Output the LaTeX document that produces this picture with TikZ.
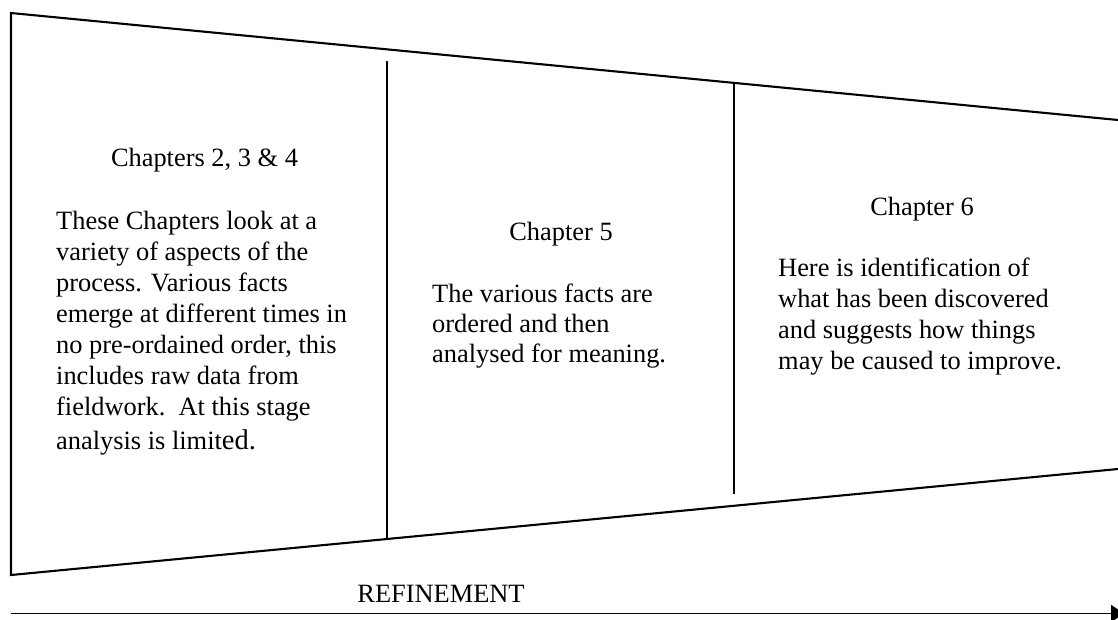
\documentclass[tikz,border=0pt]{standalone}
\usepackage{fontspec}
\setmainfont{Liberation Serif}
\usetikzlibrary{arrows.meta}
\tikzset{
  frame/.style={line width=2.1pt, line cap=round, line join=miter},
  divider/.style={line width=2.1pt},
  titletext/.style={anchor=base, inner sep=0pt, font=\fontsize{26.4}{31}\selectfont},
  bodytext/.style={anchor=base west, inner sep=0pt},
  axis/.style={line width=1.8pt, -{Triangle[length=13pt,width=17pt]}}
}
\newcommand{\bodypar}[2]{\parbox[t]{#1}{\fontsize{26.4}{31}\selectfont\raggedright #2}}
\begin{document}
\begin{tikzpicture}[x=1pt,y=-1pt]
\useasboundingbox (0,0) rectangle (1118,619);
% frame corners
\coordinate (TL) at (11,13);
\coordinate (TR) at (1118,120);
\coordinate (BL) at (11,575);
\coordinate (BR) at (1118,469);
\draw[frame] (TR) -- (TL) -- (BL) -- (BR);
% dividers
\coordinate (d1t) at (387,61);
\coordinate (d1b) at (387,539);
\coordinate (d2t) at (734,82);
\coordinate (d2b) at (734,494);
\draw[divider] (d1t) -- (d1b);
\draw[divider] (d2t) -- (d2b);
% column 1
\node[titletext] (t1) at (204.5,166) {Chapters 2, 3 \& 4};
\node[bodytext] (b1) at (56,229) {\bodypar{320pt}{These Chapters look at a\\ variety of aspects of the\\ process. Various facts\\ emerge at different times in\\ no pre-ordained order, this\\ includes raw data from\\ fieldwork.\ \ At this stage\\[3pt] analysis is limit{\fontsize{28.5}{31}\selectfont ed.}}};
% column 2
\node[titletext] (t2) at (561,240) {Chapter 5};
\node[bodytext] (b2) at (432,302) {\parbox[t]{290pt}{\fontsize{26.4}{30}\selectfont\raggedright The various facts are\\ ordered and then\\ analysed for meaning.}};
% column 3
\node[titletext] (t3) at (922,215) {Chapter 6};
\node[bodytext] (b3) at (778,276) {\bodypar{330pt}{Here is identification of\\ what has been discovered\\ and suggests how things\\ may be caused to improve.}};
% refinement arrow
\node[titletext] (ref) at (441,602) {REFINEMENT};
\coordinate (a0) at (11,613.5);
\coordinate (a1) at (1124,613.5);
\draw[axis] (a0) -- (a1);
\end{tikzpicture}
\end{document}
